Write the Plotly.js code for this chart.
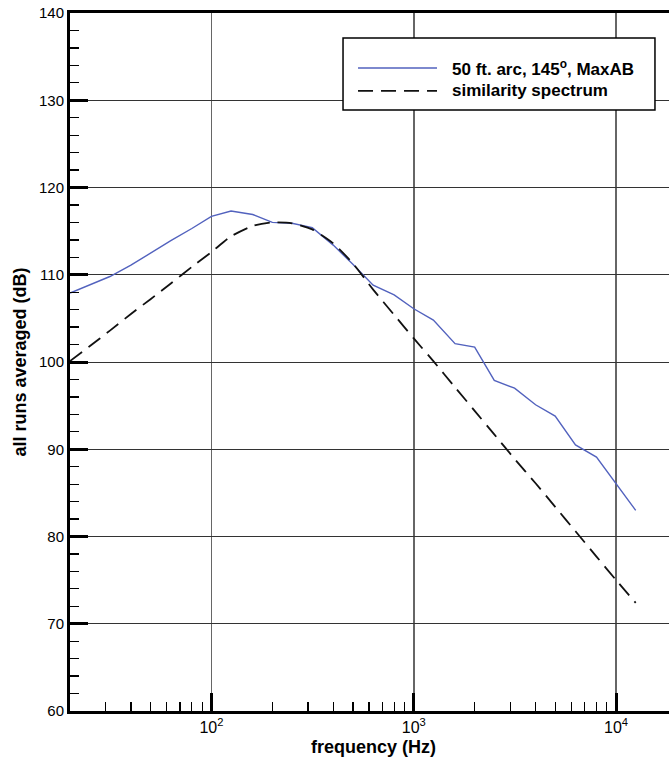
<!DOCTYPE html>
<html>
<head>
<meta charset="utf-8">
<script src="https://cdn.plot.ly/plotly-3.0.1.min.js"></script>
<style>
html,body{margin:0;padding:0;overflow:hidden;background:#fff;}
#chart{width:700px;height:767px;}
</style>
</head>
<body>
<div id="chart"></div>
<script>
// Data
const freqMeasured = [20, 25, 31.5, 40, 50, 63, 80, 100, 125, 160, 200, 250, 315, 400, 500, 630, 800, 1000, 1250, 1600, 2000, 2500, 3150, 4000, 5000, 6300, 8000, 10000, 12500];
const levelMeasured = [107.9, 108.8, 109.8, 111.1, 112.5, 113.9, 115.3, 116.7, 117.3, 116.9, 116.0, 115.9, 115.4, 113.4, 111.2, 108.8, 107.7, 106.1, 104.8, 102.1, 101.7, 97.9, 97.0, 95.1, 93.8, 90.5, 89.1, 86.1, 83.0];

const freqSimilarity = [20, 25, 31.5, 40, 50, 63, 80, 100, 125, 160, 200, 250, 315, 400, 500, 630, 800, 1000, 1250, 1600, 2000, 2500, 3150, 4000, 5000, 6300, 8000, 10000, 12500];
const levelSimilarity = [100.1, 101.8, 103.6, 105.5, 107.2, 109.0, 110.9, 112.6, 114.4, 115.6, 116.0, 115.9, 115.2, 113.6, 111.3, 108.3, 105.4, 102.7, 100.1, 97.1, 94.4, 91.7, 88.9, 86.1, 83.4, 80.6, 77.7, 75.0, 72.4];

const seriesNames = ["50 ft. arc, 145<sup>o</sup>, MaxAB", "similarity spectrum"];
const xTickVals = [100, 1000, 10000];
const xTickText = ["10<sup>2</sup>", "10<sup>3</sup>", "10<sup>4</sup>"];
const xMinorVals = [30, 40, 50, 60, 70, 80, 90, 200, 300, 400, 500, 600, 700, 800, 900, 2000, 3000, 4000, 5000, 6000, 7000, 8000, 9000];
const yTickVals = [60, 70, 80, 90, 100, 110, 120, 130, 140];

const blue = 'rgb(82,98,190)';
const FONT = 'Liberation Sans, Arial, Helvetica, sans-serif';

const traces = [
  {x: freqMeasured, y: levelMeasured, type: 'scatter', mode: 'lines', name: seriesNames[0],
   line: {color: blue, width: 1.4}, showlegend: false},
  {x: freqSimilarity, y: levelSimilarity, type: 'scatter', mode: 'lines', name: seriesNames[1],
   line: {color: '#111', width: 1.8, dash: '15px,8px', shape: 'spline', smoothing: 0.6}, showlegend: false}
];

// legend geometry in paper coords
const L = {x0: 0.4498, x1: 0.9637, y0: 0.861, y1: 0.9642, lx0: 0.4745, lx1: 0.6046, ya: 0.9212, yb: 0.8883, tx: 0.626};

const layout = {
  width: 700, height: 767,
  margin: {l: 70, r: 23, t: 13, b: 56},
  paper_bgcolor: '#fff', plot_bgcolor: '#fff',
  font: {family: FONT, color: '#000', size: 15},
  xaxis: {
    type: 'log', range: [Math.log10(20), Math.log10(20000)],
    tickmode: 'array', tickvals: xTickVals, ticktext: xTickText,
    ticks: 'inside', ticklen: 18, tickwidth: 3, tickcolor: '#000',
    showgrid: true, gridcolor: '#666', gridwidth: 1.6,
    showline: true, linecolor: '#000', linewidth: 3, mirror: true,
    zeroline: false,
    tickfont: {family: FONT, size: 16, color: '#000'},
    minor: {tickmode: 'array', tickvals: xMinorVals, ticks: 'inside', ticklen: 9, tickwidth: 1.3, tickcolor: '#000', showgrid: false},
    title: {text: '<b>frequency (Hz)</b>', font: {family: FONT, size: 18, color: '#000'}, standoff: 6}
  },
  yaxis: {
    range: [60, 140],
    tickmode: 'array', tickvals: yTickVals,
    ticks: 'inside', ticklen: 18, tickwidth: 3, tickcolor: '#000',
    showgrid: true, gridcolor: '#333', gridwidth: 1,
    showline: true, linecolor: '#000', linewidth: 3, mirror: true,
    zeroline: false,
    tickfont: {family: FONT, size: 15, color: '#000'},
    minor: {dtick: 2, ticks: 'inside', ticklen: 9, tickwidth: 1.3, tickcolor: '#000', showgrid: false},
    title: {text: '<b>all runs averaged (dB)</b>', font: {family: FONT, size: 18, color: '#000'}, standoff: 8}
  },
  shapes: [
    {type: 'rect', xref: 'paper', yref: 'paper', x0: L.x0, x1: L.x1, y0: L.y0, y1: L.y1,
     fillcolor: '#fff', line: {color: '#000', width: 1.5}, layer: 'above'},
    {type: 'line', xref: 'paper', yref: 'paper', x0: L.lx0, x1: L.lx1, y0: L.ya, y1: L.ya,
     line: {color: blue, width: 1.4}, layer: 'above'},
    {type: 'line', xref: 'paper', yref: 'paper', x0: L.lx0, x1: L.lx1, y0: L.yb, y1: L.yb,
     line: {color: '#111', width: 1.8, dash: '15px,8px'}, layer: 'above'}
  ],
  annotations: [
    {xref: 'paper', yref: 'paper', x: L.tx, y: L.ya, xanchor: 'left', yanchor: 'middle', showarrow: false,
     text: '<b>' + seriesNames[0] + '</b>', font: {family: FONT, size: 17, color: '#000'}},
    {xref: 'paper', yref: 'paper', x: L.tx, y: L.yb, xanchor: 'left', yanchor: 'middle', showarrow: false,
     text: '<b>' + seriesNames[1] + '</b>', font: {family: FONT, size: 17, color: '#000'}}
  ]
};

Plotly.newPlot('chart', traces, layout, {displayModeBar: false, staticPlot: true});
</script>
</body>
</html>
